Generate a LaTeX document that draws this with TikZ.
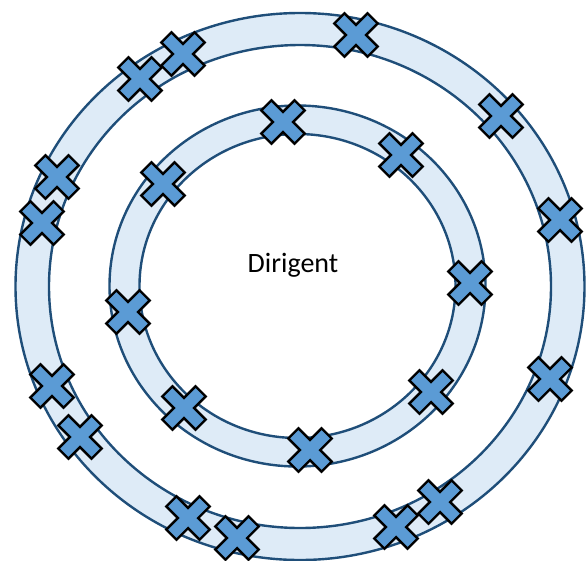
\documentclass[tikz,border=0pt]{standalone}
\usepackage{fontspec}
\setmainfont{Carlito}
\definecolor{ringfill}{HTML}{DEEBF7}
\definecolor{ringline}{HTML}{1F4E79}
\definecolor{crossfill}{HTML}{5B9BD5}
\tikzset{
  ring/.style={fill=ringfill, even odd rule, draw=ringline, line width=2.4pt},
  xmark/.pic={
    \filldraw[fill=crossfill, draw=black, line width=2.4pt, line join=miter, rotate=45]
      (23.5,7.2) -- (7.2,7.2) -- (7.2,23.5) -- (-7.2,23.5) -- (-7.2,7.2) -- (-23.5,7.2)
      -- (-23.5,-7.2) -- (-7.2,-7.2) -- (-7.2,-23.5) -- (7.2,-23.5) -- (7.2,-7.2)
      -- (23.5,-7.2) -- cycle;
  }
}
\begin{document}
\begin{tikzpicture}[x=1pt,y=-1pt]
\useasboundingbox (0,0) rectangle (588,560);
% outer ring
\path[ring] (300,286.5) ellipse [x radius=284.5pt, y radius=273.5pt]
            (300,286.5) ellipse [x radius=251pt, y radius=241.5pt];
% inner ring
\path[ring] (297.5,286) ellipse [x radius=188pt, y radius=180.5pt]
            (297.5,286) ellipse [x radius=158pt, y radius=152pt];
% text
\node[font=\fontsize{28}{32}\selectfont, anchor=base, inner sep=0pt] (dir) at (293,272) {Dirigent};
% crosses, outer ring
\foreach \p in {(356,35),(140,79),(183,54),(57,177),(42,223),(501,116),(560,220),
                (550,379),(52,386),(80,437),(188,518),(237,538),(396,527),(440,502)}
  \pic at \p {xmark};
% crosses, inner ring
\foreach \p in {(283,122),(163,184),(401,155),(470,283),(128,312),(184,408),(431,392),(310,450)}
  \pic at \p {xmark};
\end{tikzpicture}
\end{document}
